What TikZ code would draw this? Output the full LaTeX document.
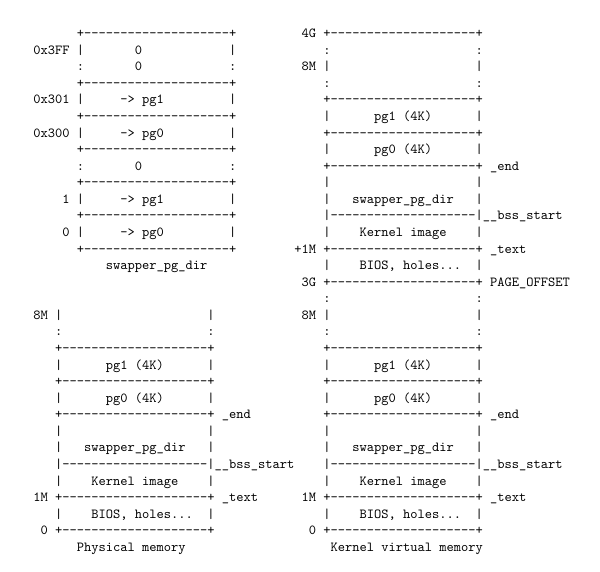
\documentclass[tikz,border=0pt]{standalone}
\newcount\tcnt
\tikzset{tt/.style={anchor=base west, inner sep=0pt, outer sep=0pt, font=\ttfamily}}
\newcommand\putt[3]{\global\advance\tcnt by 1\relax
  \node[tt] (t\the\tcnt) at ({24.1pt+(#1)*5.25pt},{-27.3pt-(#2)*12pt}) {#3};}
\newcommand\Dsh{-{}-{}-{}-{}-{}-{}-{}-{}-{}-{}-{}-{}-{}-{}-{}-{}-{}-{}-{}-{}}
\newcommand\pbox[2]{\putt{#1}{#2}{+\Dsh+}}
\newcommand\psep[2]{\putt{#1}{#2}{|\Dsh|}}
\newcommand\mem[1]{%
 \putt{#1}{17}{8M}\putt{#1+3}{17}{|}\putt{#1+24}{17}{|}
 \putt{#1+3}{18}{:}\putt{#1+24}{18}{:}
 \pbox{#1+3}{19}
 \putt{#1+3}{20}{|}\putt{#1+10}{20}{pg1 (4K)}\putt{#1+24}{20}{|}
 \pbox{#1+3}{21}
 \putt{#1+3}{22}{|}\putt{#1+10}{22}{pg0 (4K)}\putt{#1+24}{22}{|}
 \pbox{#1+3}{23}\putt{#1+26}{23}{\_end}
 \putt{#1+3}{24}{|}\putt{#1+24}{24}{|}
 \putt{#1+3}{25}{|}\putt{#1+7}{25}{swapper\_pg\_dir}\putt{#1+24}{25}{|}
 \psep{#1+3}{26}\putt{#1+25}{26}{\_\_bss\_start}
 \putt{#1+3}{27}{|}\putt{#1+8}{27}{Kernel image}\putt{#1+24}{27}{|}
 \putt{#1}{28}{1M}\pbox{#1+3}{28}\putt{#1+26}{28}{\_text}
 \putt{#1+3}{29}{|}\putt{#1+8}{29}{BIOS, holes...}\putt{#1+24}{29}{|}
 \putt{#1+1}{30}{0}\pbox{#1+3}{30}
}
\begin{document}
\begin{tikzpicture}
\fill[white] (0,0) rectangle (434.5pt,-413.5pt);
\useasboundingbox (0,0) rectangle (434.5pt,-413.5pt);
% swapper_pg_dir table
\pbox{6}{0}
\putt{0}{1}{0x3FF}\putt{6}{1}{|}\putt{14}{1}{0}\putt{27}{1}{|}
\putt{6}{2}{:}\putt{14}{2}{0}\putt{27}{2}{:}
\pbox{6}{3}
\putt{0}{4}{0x301}\putt{6}{4}{|}\putt{12}{4}{-> pg1}\putt{27}{4}{|}
\pbox{6}{5}
\putt{0}{6}{0x300}\putt{6}{6}{|}\putt{12}{6}{-> pg0}\putt{27}{6}{|}
\pbox{6}{7}
\putt{6}{8}{:}\putt{14}{8}{0}\putt{27}{8}{:}
\pbox{6}{9}
\putt{4}{10}{1}\putt{6}{10}{|}\putt{12}{10}{-> pg1}\putt{27}{10}{|}
\pbox{6}{11}
\putt{4}{12}{0}\putt{6}{12}{|}\putt{12}{12}{-> pg0}\putt{27}{12}{|}
\pbox{6}{13}
\putt{10}{14}{swapper\_pg\_dir}
% kernel virtual memory, upper part
\putt{37}{0}{4G}\pbox{40}{0}
\putt{40}{1}{:}\putt{61}{1}{:}
\putt{37}{2}{8M}\putt{40}{2}{|}\putt{61}{2}{|}
\putt{40}{3}{:}\putt{61}{3}{:}
\pbox{40}{4}
\putt{40}{5}{|}\putt{47}{5}{pg1 (4K)}\putt{61}{5}{|}
\pbox{40}{6}
\putt{40}{7}{|}\putt{47}{7}{pg0 (4K)}\putt{61}{7}{|}
\pbox{40}{8}\putt{63}{8}{\_end}
\putt{40}{9}{|}\putt{61}{9}{|}
\putt{40}{10}{|}\putt{44}{10}{swapper\_pg\_dir}\putt{61}{10}{|}
\psep{40}{11}\putt{62}{11}{\_\_bss\_start}
\putt{40}{12}{|}\putt{45}{12}{Kernel image}\putt{61}{12}{|}
\putt{36}{13}{+1M}\pbox{40}{13}\putt{63}{13}{\_text}
\putt{40}{14}{|}\putt{45}{14}{BIOS, holes...}\putt{61}{14}{|}
\putt{37}{15}{3G}\pbox{40}{15}\putt{63}{15}{PAGE\_OFFSET}
\putt{40}{16}{:}\putt{61}{16}{:}
% lower parts
\mem{0}
\mem{37}
\putt{6}{31}{Physical memory}
\putt{41}{31}{Kernel virtual memory}
\end{tikzpicture}
\end{document}
